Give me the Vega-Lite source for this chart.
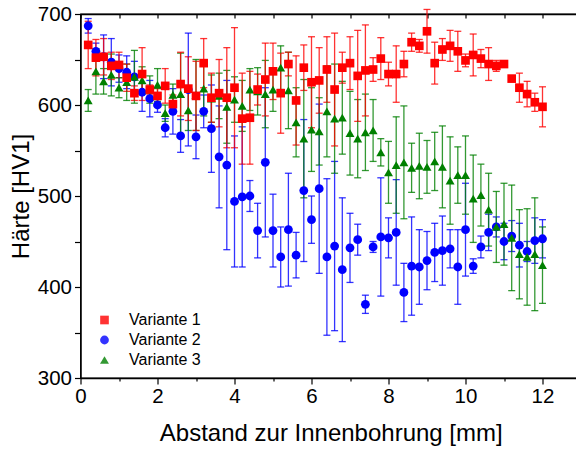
{
  "$schema": "https://vega.github.io/schema/vega-lite/v6.json",
  "autosize": "none",
  "width": 500.5,
  "height": 364,
  "padding": {"left": 80.5, "top": 14, "right": 0, "bottom": 71},
  "background": "white",
  "config": {
    "font": "Liberation Sans",
    "view": {"stroke": "black", "strokeWidth": 1.3},
    "axis": {"grid": false, "domainColor": "black", "domainWidth": 1.3, "tickColor": "black", "tickWidth": 1.2, "labelColor": "black", "titleColor": "black", "labelFont": "Liberation Sans", "titleFont": "Liberation Sans", "titleFontWeight": "normal", "labelOverlap": false, "labelFlush": false},
    "legend": {"orient": "none", "legendX": 16, "legendY": 298, "title": null, "labelFontSize": 16, "labelFont": "Liberation Sans", "labelColor": "black", "rowPadding": 4, "labelOffset": 16.5, "padding": 0, "symbolStrokeWidth": 0}
  },
  "data": {"values": [
    {"s":"Variante 2","x":0.2,"y":687,"e":8},{"s":"Variante 2","x":0.4,"y":659,"e":9},{"s":"Variante 2","x":0.6,"y":653,"e":24},{"s":"Variante 2","x":0.8,"y":647,"e":26},{"s":"Variante 2","x":1.0,"y":640,"e":15},{"s":"Variante 2","x":1.2,"y":636,"e":18},{"s":"Variante 2","x":1.4,"y":631,"e":17},{"s":"Variante 2","x":1.6,"y":614,"e":21},{"s":"Variante 2","x":1.8,"y":607,"e":20},{"s":"Variante 2","x":2.0,"y":600,"e":8},
    {"s":"Variante 2","x":2.2,"y":575,"e":10},{"s":"Variante 2","x":2.4,"y":593,"e":25},{"s":"Variante 2","x":2.6,"y":566,"e":18},{"s":"Variante 2","x":2.8,"y":617,"e":62},{"s":"Variante 2","x":3.0,"y":565,"e":24},{"s":"Variante 2","x":3.2,"y":593,"e":18},{"s":"Variante 2","x":3.4,"y":574,"e":48},{"s":"Variante 2","x":3.6,"y":543,"e":56},{"s":"Variante 2","x":3.8,"y":534,"e":93},{"s":"Variante 2","x":4.0,"y":494,"e":72},
    {"s":"Variante 2","x":4.2,"y":499,"e":77},{"s":"Variante 2","x":4.4,"y":500,"e":17},{"s":"Variante 2","x":4.6,"y":462,"e":30},{"s":"Variante 2","x":4.8,"y":537,"e":82},{"s":"Variante 2","x":5.0,"y":462,"e":40},{"s":"Variante 2","x":5.2,"y":433,"e":33},{"s":"Variante 2","x":5.4,"y":463,"e":62},{"s":"Variante 2","x":5.6,"y":435,"e":25},{"s":"Variante 2","x":5.8,"y":506,"e":78},{"s":"Variante 2","x":6.0,"y":474,"e":26},
    {"s":"Variante 2","x":6.2,"y":508,"e":93},{"s":"Variante 2","x":6.4,"y":433,"e":86},{"s":"Variante 2","x":6.6,"y":445,"e":93},{"s":"Variante 2","x":6.8,"y":419,"e":79},{"s":"Variante 2","x":7.0,"y":443,"e":38},{"s":"Variante 2","x":7.2,"y":452,"e":17},{"s":"Variante 2","x":7.4,"y":381,"e":10},{"s":"Variante 2","x":7.6,"y":444,"e":6},{"s":"Variante 2","x":7.8,"y":455,"e":65},{"s":"Variante 2","x":8.0,"y":454,"e":22},
    {"s":"Variante 2","x":8.2,"y":460,"e":58},{"s":"Variante 2","x":8.4,"y":394,"e":32},{"s":"Variante 2","x":8.6,"y":423,"e":54},{"s":"Variante 2","x":8.8,"y":422,"e":41},{"s":"Variante 2","x":9.0,"y":429,"e":32},{"s":"Variante 2","x":9.2,"y":438,"e":32},{"s":"Variante 2","x":9.4,"y":440,"e":38},{"s":"Variante 2","x":9.6,"y":442,"e":21},{"s":"Variante 2","x":9.8,"y":422,"e":41},{"s":"Variante 2","x":10.0,"y":463,"e":51},
    {"s":"Variante 2","x":10.2,"y":423,"e":8},{"s":"Variante 2","x":10.4,"y":444,"e":12},{"s":"Variante 2","x":10.6,"y":460,"e":20},{"s":"Variante 2","x":10.8,"y":466,"e":11},{"s":"Variante 2","x":11.0,"y":450,"e":20},{"s":"Variante 2","x":11.2,"y":456,"e":17},{"s":"Variante 2","x":11.4,"y":446,"e":24},{"s":"Variante 2","x":11.6,"y":439,"e":11},{"s":"Variante 2","x":11.8,"y":451,"e":25},{"s":"Variante 2","x":12.0,"y":453,"e":21},
    {"s":"Variante 3","x":0.2,"y":605,"e":12},{"s":"Variante 3","x":0.4,"y":637,"e":25},{"s":"Variante 3","x":0.6,"y":626,"e":14},{"s":"Variante 3","x":0.8,"y":633,"e":23},{"s":"Variante 3","x":1.0,"y":619,"e":11},{"s":"Variante 3","x":1.2,"y":625,"e":20},{"s":"Variante 3","x":1.4,"y":631,"e":29},{"s":"Variante 3","x":1.6,"y":627,"e":15},{"s":"Variante 3","x":1.8,"y":617,"e":15},{"s":"Variante 3","x":2.0,"y":622,"e":18},
    {"s":"Variante 3","x":2.2,"y":591,"e":9},{"s":"Variante 3","x":2.4,"y":611,"e":12},{"s":"Variante 3","x":2.6,"y":612,"e":45},{"s":"Variante 3","x":2.8,"y":594,"e":22},{"s":"Variante 3","x":3.0,"y":611,"e":39},{"s":"Variante 3","x":3.2,"y":618,"e":30},{"s":"Variante 3","x":3.4,"y":607,"e":26},{"s":"Variante 3","x":3.6,"y":610,"e":25},{"s":"Variante 3","x":3.8,"y":598,"e":40},{"s":"Variante 3","x":4.0,"y":606,"e":25},
    {"s":"Variante 3","x":4.2,"y":599,"e":28},{"s":"Variante 3","x":4.4,"y":617,"e":23},{"s":"Variante 3","x":4.6,"y":615,"e":26},{"s":"Variante 3","x":4.8,"y":612,"e":37},{"s":"Variante 3","x":5.0,"y":617,"e":24},{"s":"Variante 3","x":5.2,"y":641,"e":24},{"s":"Variante 3","x":5.4,"y":616,"e":42},{"s":"Variante 3","x":5.6,"y":581,"e":38},{"s":"Variante 3","x":5.8,"y":563,"e":65},{"s":"Variante 3","x":6.0,"y":573,"e":46},
    {"s":"Variante 3","x":6.2,"y":571,"e":37},{"s":"Variante 3","x":6.4,"y":593,"e":50},{"s":"Variante 3","x":6.6,"y":585,"e":60},{"s":"Variante 3","x":6.8,"y":586,"e":40},{"s":"Variante 3","x":7.0,"y":569,"e":46},{"s":"Variante 3","x":7.2,"y":563,"e":43},{"s":"Variante 3","x":7.4,"y":570,"e":42},{"s":"Variante 3","x":7.6,"y":572,"e":34},{"s":"Variante 3","x":7.8,"y":548,"e":15},{"s":"Variante 3","x":8.0,"y":526,"e":34},
    {"s":"Variante 3","x":8.2,"y":534,"e":53},{"s":"Variante 3","x":8.4,"y":537,"e":62},{"s":"Variante 3","x":8.6,"y":531,"e":27},{"s":"Variante 3","x":8.8,"y":533,"e":36},{"s":"Variante 3","x":9.0,"y":532,"e":29},{"s":"Variante 3","x":9.2,"y":538,"e":32},{"s":"Variante 3","x":9.4,"y":532,"e":45},{"s":"Variante 3","x":9.6,"y":517,"e":48},{"s":"Variante 3","x":9.8,"y":523,"e":31},{"s":"Variante 3","x":10.0,"y":523,"e":43},
    {"s":"Variante 3","x":10.2,"y":497,"e":48},{"s":"Variante 3","x":10.4,"y":501,"e":34},{"s":"Variante 3","x":10.6,"y":485,"e":40},{"s":"Variante 3","x":10.8,"y":466,"e":39},{"s":"Variante 3","x":11.0,"y":469,"e":45},{"s":"Variante 3","x":11.2,"y":454,"e":58},{"s":"Variante 3","x":11.4,"y":436,"e":49},{"s":"Variante 3","x":11.6,"y":433,"e":53},{"s":"Variante 3","x":11.8,"y":436,"e":62},{"s":"Variante 3","x":12.0,"y":424,"e":42},
    {"s":"Variante 1","x":0.2,"y":666,"e":26},{"s":"Variante 1","x":0.4,"y":652,"e":20},{"s":"Variante 1","x":0.6,"y":653,"e":20},{"s":"Variante 1","x":0.8,"y":643,"e":15},{"s":"Variante 1","x":1.0,"y":644,"e":14},{"s":"Variante 1","x":1.2,"y":630,"e":15},{"s":"Variante 1","x":1.4,"y":613,"e":8},{"s":"Variante 1","x":1.6,"y":634,"e":29},{"s":"Variante 1","x":1.8,"y":617,"e":5},{"s":"Variante 1","x":2.0,"y":610,"e":8},
    {"s":"Variante 1","x":2.2,"y":621,"e":19},{"s":"Variante 1","x":2.4,"y":601,"e":10},{"s":"Variante 1","x":2.6,"y":623,"e":35},{"s":"Variante 1","x":2.8,"y":618,"e":35},{"s":"Variante 1","x":3.0,"y":610,"e":38},{"s":"Variante 1","x":3.2,"y":646,"e":27},{"s":"Variante 1","x":3.4,"y":608,"e":27},{"s":"Variante 1","x":3.6,"y":613,"e":37},{"s":"Variante 1","x":3.8,"y":608,"e":55},{"s":"Variante 1","x":4.0,"y":619,"e":66},
    {"s":"Variante 1","x":4.2,"y":585,"e":50},{"s":"Variante 1","x":4.4,"y":586,"e":51},{"s":"Variante 1","x":4.6,"y":617,"e":17},{"s":"Variante 1","x":4.8,"y":628,"e":40},{"s":"Variante 1","x":5.0,"y":637,"e":31},{"s":"Variante 1","x":5.2,"y":613,"e":44},{"s":"Variante 1","x":5.4,"y":645,"e":13},{"s":"Variante 1","x":5.6,"y":605,"e":49},{"s":"Variante 1","x":5.8,"y":641,"e":25},{"s":"Variante 1","x":6.0,"y":625,"e":50},
    {"s":"Variante 1","x":6.2,"y":627,"e":36},{"s":"Variante 1","x":6.4,"y":639,"e":36},{"s":"Variante 1","x":6.6,"y":617,"e":62},{"s":"Variante 1","x":6.8,"y":641,"e":17},{"s":"Variante 1","x":7.0,"y":646,"e":29},{"s":"Variante 1","x":7.2,"y":632,"e":50},{"s":"Variante 1","x":7.4,"y":638,"e":50},{"s":"Variante 1","x":7.6,"y":639,"e":13},{"s":"Variante 1","x":7.8,"y":651,"e":23},{"s":"Variante 1","x":8.0,"y":634,"e":13},
    {"s":"Variante 1","x":8.2,"y":634,"e":31},{"s":"Variante 1","x":8.4,"y":645,"e":14},{"s":"Variante 1","x":8.6,"y":669,"e":10},{"s":"Variante 1","x":8.8,"y":665,"e":7},{"s":"Variante 1","x":9.0,"y":681,"e":24},{"s":"Variante 1","x":9.2,"y":646,"e":23},{"s":"Variante 1","x":9.4,"y":661,"e":12},{"s":"Variante 1","x":9.6,"y":665,"e":17},{"s":"Variante 1","x":9.8,"y":659,"e":22},{"s":"Variante 1","x":10.0,"y":649,"e":7},
    {"s":"Variante 1","x":10.2,"y":655,"e":23},{"s":"Variante 1","x":10.4,"y":651,"e":10},{"s":"Variante 1","x":10.6,"y":645,"e":18},{"s":"Variante 1","x":10.8,"y":643,"e":6},{"s":"Variante 1","x":11.0,"y":645,"e":3},{"s":"Variante 1","x":11.2,"y":629,"e":3},{"s":"Variante 1","x":11.4,"y":619,"e":16},{"s":"Variante 1","x":11.6,"y":612,"e":14},{"s":"Variante 1","x":11.8,"y":603,"e":10},{"s":"Variante 1","x":12.0,"y":598,"e":22}
  ]},
  "resolve": {"axis": {"x": "independent", "y": "independent"}},
  "layer": [
    {
      "mark": {"type": "errorbar", "ticks": {"size": 7}, "thickness": 1.3, "opacity": 0.8},
      "encoding": {
        "x": {"field": "x", "type": "quantitative", "scale": {"domain": [0, 13], "nice": false, "zero": false},
          "axis": {"orient": "top", "values": [0,1,2,3,4,5,6,7,8,9,10,11,12,13], "labels": false, "title": null, "tickSize": -4, "domain": true}},
        "y": {"field": "y", "type": "quantitative", "scale": {"domain": [300, 700], "nice": false, "zero": false},
          "axis": {"orient": "right", "values": [300,400,500,600,700], "labels": false, "title": null, "tickSize": -5}},
        "yError": {"field": "e"},
        "color": {"field": "s", "type": "nominal"}
      }
    },
    {
      "mark": {"type": "point", "filled": true, "opacity": 1},
      "encoding": {
        "x": {"field": "x", "type": "quantitative",
          "axis": {"orient": "bottom", "values": [0,1,2,3,4,5,6,7,8,9,10,11,12,13], "labelExpr": "datum.value % 2 == 0 ? datum.label : ''", "title": "Abstand zur Innenbohrung [mm]", "labelFontSize": 20.5, "titleFontSize": 24, "labelPadding": 2, "titlePadding": 15,
            "tickSize": {"condition": {"test": "datum.value % 2 == 0", "value": 6}, "value": 3}}},
        "y": {"field": "y", "type": "quantitative",
          "axis": {"orient": "left", "values": [300,350,400,450,500,550,600,650,700], "labelExpr": "datum.value % 100 == 0 ? datum.label : ''", "title": "Härte [HV1]", "labelFontSize": 20.5, "titleFontSize": 24, "labelPadding": 3, "tickSize": 6, "titleX": -47}},
        "color": {"field": "s", "type": "nominal", "scale": {"domain": ["Variante 1", "Variante 2", "Variante 3"], "range": ["#ff0000", "#0000ff", "#008000"]}},
        "shape": {"field": "s", "type": "nominal", "scale": {"domain": ["Variante 1", "Variante 2", "Variante 3"], "range": ["square", "circle", "triangle-up"]}},
        "size": {"field": "s", "type": "nominal", "scale": {"domain": ["Variante 1", "Variante 2", "Variante 3"], "range": [75, 80, 130]}}
      }
    }
  ]
}
